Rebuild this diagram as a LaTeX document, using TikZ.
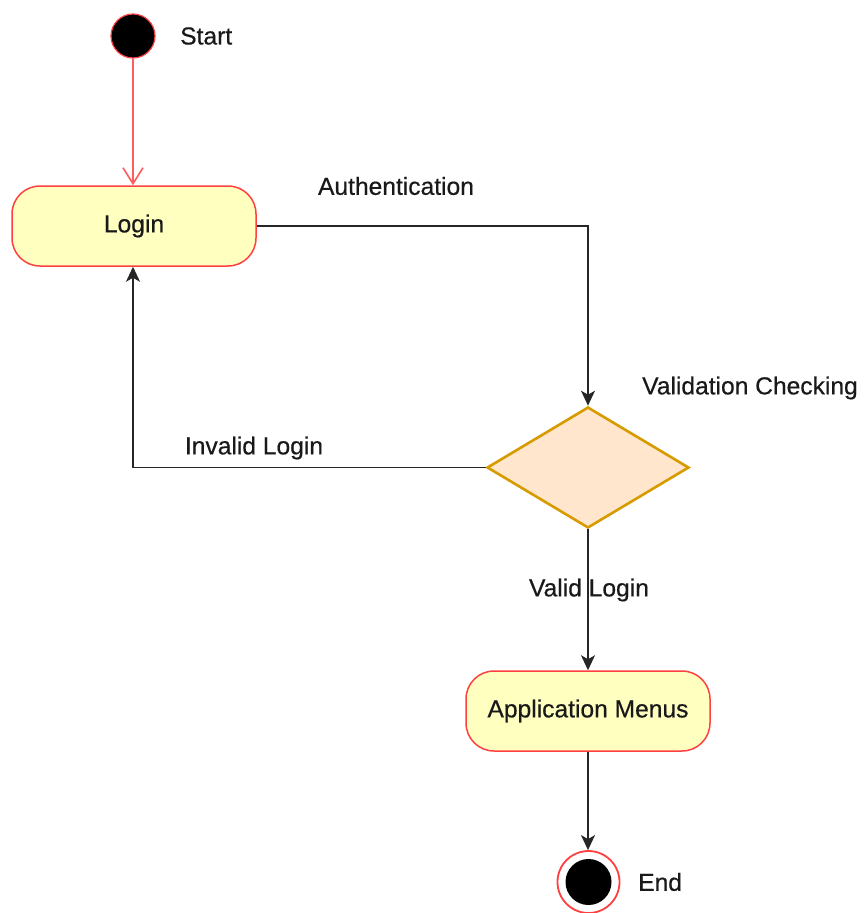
\documentclass[tikz,border=0pt]{standalone}
\usepackage{fontspec}
\setmainfont{Liberation Sans}
\newfontfamily\lblfont{Liberation Sans}[FakeBold=0.5]
\usetikzlibrary{arrows.meta,shapes.geometric}

\definecolor{stateRed}{HTML}{FF4040}
\definecolor{stateFill}{HTML}{FFFFC0}
\definecolor{decFill}{HTML}{FFE6CC}
\definecolor{decDraw}{HTML}{D79B00}

\tikzset{
  txt/.style={font=\lblfont\fontsize{24.6}{29}\selectfont, text=black!90, inner sep=0pt},
  state/.style={draw=stateRed, line width=1.5pt, fill=stateFill, rounded corners=28pt,
    minimum width=244pt, minimum height=80pt, font=\lblfont\fontsize{24.6}{29}\selectfont, text=black!90},
  decision/.style={diamond, draw=decDraw, line width=2.6pt, fill=decFill,
    minimum width=202pt, minimum height=121pt, inner sep=0pt, aspect=1.67},
  flow/.style={draw=black!85, line width=1.6pt, -{Stealth[length=15pt,width=14pt,inset=4pt]}},
  startflow/.style={draw=stateRed!85, line width=1.6pt, -{Straight Barb[length=16pt,width=20pt,line width=1.6pt]}}
}

\begin{document}
\begin{tikzpicture}[x=1pt,y=-1pt]
  \useasboundingbox (0,0) rectangle (863,913);

  % initial state
  \node[circle, draw=stateRed, line width=1.2pt, fill=black, minimum size=44pt, inner sep=0pt] (start) at (133,36) {};
  \node[txt, anchor=west] (startlbl) at (180,36) {Start};

  % activity states
  \node[state] (login) at (134,226) {Login};
  \node[state] (menus) at (588,711) {Application Menus};

  % validation decision
  \node[decision] (check) at (588,467.5) {};

  % final state
  \node[circle, draw=stateRed, line width=1.8pt, fill=white, minimum size=62pt, inner sep=0pt] (endring) at (588.5,882) {};
  \node[circle, fill=black, minimum size=46pt, inner sep=0pt] (enddot) at (588.5,882) {};
  \node[txt, anchor=west] (endlbl) at (638,882) {End};

  % transitions
  \draw[startflow] (start.south) -- (login.north -| start.south);
  \draw[flow] (login.east) -| (check.north);
  \draw[flow] (check.west) -| (login.south -| start.south);
  \draw[flow] (check.south) -- (menus.north);
  \draw[flow] (menus.south) -- (endring.north -| menus.south);

  % transition labels
  \node[txt] (authlbl) at (396,186) {Authentication};
  \node[txt, anchor=west] (checklbl) at (642,388) {Validation Checking};
  \node[txt] (invalidlbl) at (254,448) {Invalid Login};
  \node[txt] (validlbl) at (589,590) {Valid Login};
\end{tikzpicture}
\end{document}
